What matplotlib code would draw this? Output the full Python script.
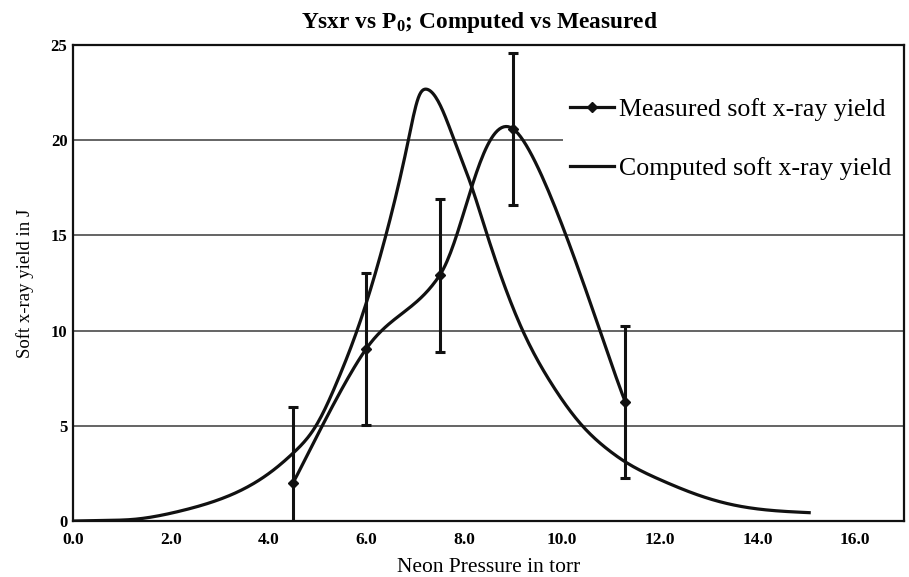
import numpy as np
import matplotlib
matplotlib.use("Agg")
import matplotlib.pyplot as plt
from matplotlib.patches import Rectangle

plt.rcParams['font.family'] = ['Liberation Serif', 'DejaVu Serif']
plt.rcParams['mathtext.fontset'] = 'custom'
plt.rcParams['mathtext.rm'] = 'Liberation Serif'
plt.rcParams['mathtext.bf'] = 'Liberation Serif:bold'

# measured soft x-ray yield (with +/- error)
meas_p = [4.5, 6.0, 7.5, 9.0, 11.3]
meas_y = [2.0, 9.05, 12.9, 20.6, 6.25]
meas_err = [4.0, 4.0, 4.0, 4.0, 4.0]

# computed soft x-ray yield
comp_p = [0.0, 0.6, 1.25, 1.8, 2.28, 2.96, 3.64, 4.19, 4.5, 4.97, 5.4, 5.81,
          6.4, 6.86, 7.08, 7.23, 7.5, 7.8, 8.17, 8.47, 9.2, 9.78, 10.42,
          10.93, 11.29, 12.02, 12.84, 13.52, 14.2, 15.06]
comp_y = [0.0, 0.03, 0.09, 0.3, 0.58, 1.1, 1.89, 2.86, 3.56, 5.0, 7.3, 10.0,
          15.0, 20.0, 22.33, 22.68, 21.9, 20.0, 17.45, 15.05, 10.0, 7.25, 5.0,
          3.78, 3.12, 2.16, 1.32, 0.84, 0.58, 0.44]

x_ticks = [0, 2, 4, 6, 8, 10, 12, 14, 16]
y_ticks = [0, 5, 10, 15, 20, 25]


def smooth(x, y, n=40):
    # excel-like smoothed line (bezier through the points)
    pts = np.column_stack([x, y])
    p = np.vstack([pts[0], pts, pts[-1]])
    t = np.linspace(0, 1, n)[:, None]
    segs = []
    for i in range(1, len(p) - 2):
        p0, p1, p2, p3 = p[i - 1], p[i], p[i + 1], p[i + 2]
        c1 = p1 + (p2 - p0) / 6
        c2 = p2 - (p3 - p1) / 6
        segs.append((1 - t) ** 3 * p1 + 3 * (1 - t) ** 2 * t * c1
                    + 3 * (1 - t) * t ** 2 * c2 + t ** 3 * p2)
    s = np.vstack(segs)
    return s[:, 0], s[:, 1]


def spline(x, y, n=600):
    # natural cubic spline through the read points
    x = np.asarray(x, float)
    y = np.asarray(y, float)
    k = len(x)
    h = np.diff(x)
    A = np.zeros((k, k))
    b = np.zeros(k)
    A[0, 0] = A[-1, -1] = 1
    for i in range(1, k - 1):
        A[i, i - 1] = h[i - 1]
        A[i, i] = 2 * (h[i - 1] + h[i])
        A[i, i + 1] = h[i]
        b[i] = 6 * ((y[i + 1] - y[i]) / h[i] - (y[i] - y[i - 1]) / h[i - 1])
    m = np.linalg.solve(A, b)
    xs = np.linspace(x[0], x[-1], n)
    j = np.clip(np.searchsorted(x, xs) - 1, 0, k - 2)
    t0 = x[j + 1] - xs
    t1 = xs - x[j]
    hj = h[j]
    ys = (m[j] * t0 ** 3 / (6 * hj) + m[j + 1] * t1 ** 3 / (6 * hj)
          + (y[j] / hj - m[j] * hj / 6) * t0 + (y[j + 1] / hj - m[j + 1] * hj / 6) * t1)
    return xs, ys


fig = plt.figure(figsize=(9.09, 5.77), dpi=100)
ax = fig.add_axes([0.0803, 0.097, 0.9142, 0.825])

mx, my = smooth(meas_p, meas_y)
cx, cy = spline(comp_p, comp_y)

ax.plot(mx, my, color='#111111', lw=2.3, zorder=3)
ax.plot(meas_p, meas_y, 'D', color='#111111', ms=5.5, zorder=4)
ax.errorbar(meas_p, meas_y, yerr=meas_err, fmt='none', ecolor='#111111',
            elinewidth=2.2, capsize=3.5, capthick=2.2, zorder=3)
ax.plot(cx, cy, color='#111111', lw=2.3, zorder=3)

# white box behind the legend (hides the gridline there)
ax.add_patch(Rectangle((0.5897, 0.72), 0.4103, 0.19, transform=ax.transAxes,
                       facecolor='white', edgecolor='none', zorder=2.5))

# legend handles
ax.plot([], [], '-D', color='#111111', lw=2.3, ms=5.5, label='Measured soft x-ray yield')
ax.plot([], [], '-', color='#111111', lw=2.3, label='Computed soft x-ray yield')
leg = ax.legend(loc='upper left', bbox_to_anchor=(0.5897, 0.9035), borderaxespad=0,
                fontsize=18.6, frameon=False, borderpad=0.28,
                handlelength=1.7, handletextpad=0.2, labelspacing=1.37)
leg.set_zorder(5)

ax.set_xlim(0, 17)
ax.set_ylim(0, 25)
ax.set_xticks(x_ticks)
ax.set_xticklabels(['%.1f' % v for v in x_ticks], fontweight='bold', fontsize=12.5)
ax.set_yticks(y_ticks)
ax.set_yticklabels([str(v) for v in y_ticks], fontweight='bold', fontsize=12)
ax.tick_params(axis='x', length=0, pad=8)
ax.tick_params(axis='y', length=0, pad=4)

ax.set_axisbelow(True)
ax.yaxis.grid(True, color='#3a3a3a', lw=1.1)
for s in ax.spines.values():
    s.set_linewidth(1.6)
    s.set_color('#111111')

ax.set_title(r'Ysxr vs P$_{\mathbf{0}}$; Computed vs Measured', fontsize=16.8,
             fontweight='bold', pad=12, x=0.4886)
ax.set_xlabel('Neon Pressure in torr', fontsize=15.5, labelpad=7)
ax.set_ylabel('Soft x-ray yield in J', fontsize=13.5, labelpad=12)

fig.savefig('out.png', dpi=100)
